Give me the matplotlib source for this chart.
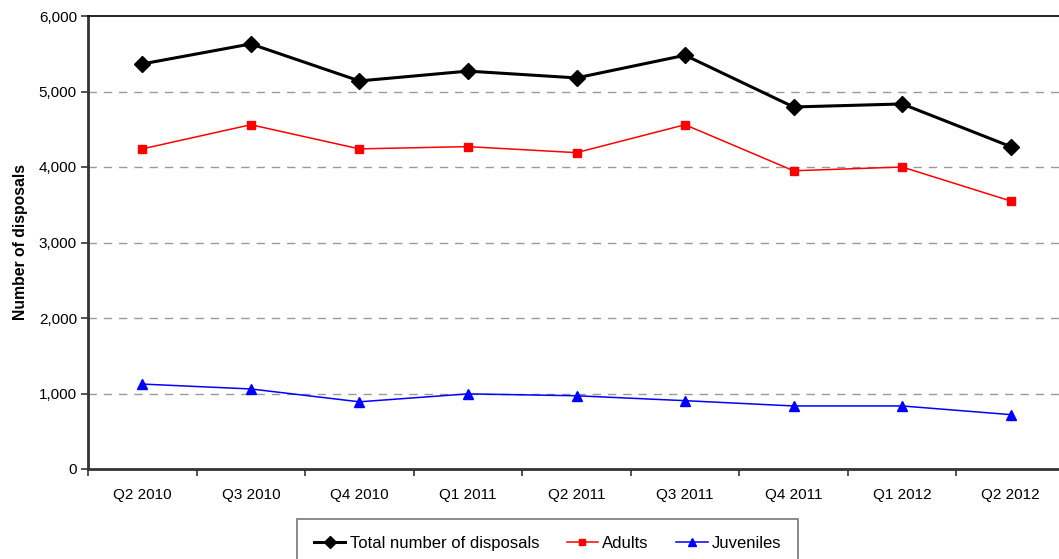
import matplotlib
matplotlib.use("Agg")
import matplotlib.pyplot as plt
from matplotlib.ticker import FuncFormatter, MultipleLocator, FixedLocator

plt.rcParams['font.family'] = ['Liberation Sans', 'DejaVu Sans']

quarters = ["Q2 2010", "Q3 2010", "Q4 2010", "Q1 2011", "Q2 2011",
            "Q3 2011", "Q4 2011", "Q1 2012", "Q2 2012"]
total = [5365, 5630, 5140, 5270, 5180, 5480, 4795, 4835, 4270]
adults = [4240, 4560, 4240, 4270, 4190, 4560, 3950, 4000, 3550]
juveniles = [1125, 1060, 890, 995, 970, 905, 835, 835, 720]

W, H = 1059, 559
fig = plt.figure(figsize=(W / 100, H / 100), dpi=100)
ax = fig.add_axes([88 / W, (H - 469) / H, (1065 - 88) / W, (469 - 16) / H])

x = list(range(len(quarters)))
ax.plot(x, total, color="black", lw=2.2, marker="D", ms=8,
        label="Total number of disposals", zorder=5)
ax.plot(x, adults, color="#ff0000", lw=1.1, marker="s", ms=6,
        label="Adults", zorder=4)
ax.plot(x, juveniles, color="#0000ff", lw=1.1, marker="^", ms=7,
        label="Juveniles", zorder=3)

ax.set_xlim(-0.5, 8.5)
ax.set_ylim(0, 6000)
ax.yaxis.set_major_locator(MultipleLocator(1000))
ax.yaxis.set_major_formatter(FuncFormatter(lambda v, p: f"{int(v):,}"))
ax.set_xticks(x)
ax.set_xticklabels(quarters)
ax.xaxis.set_minor_locator(FixedLocator([i - 0.5 for i in range(len(quarters) + 1)]))
ax.tick_params(axis="x", which="major", length=0, pad=14, labelsize=11)
ax.tick_params(axis="x", which="minor", length=5, width=1.2, color="#333333")
ax.tick_params(axis="y", length=5, width=1.2, color="#333333", labelsize=11, pad=3)

for v in range(1000, 6000, 1000):
    ax.axhline(v, color="#999999", lw=1, ls=(0, (6, 5)), zorder=1)

for s in ("left", "bottom"):
    ax.spines[s].set_linewidth(2)
    ax.spines[s].set_color("#333333")
ax.spines["top"].set_linewidth(1.2)
ax.spines["top"].set_color("black")
ax.spines["right"].set_visible(False)

ax.set_ylabel("Number of disposals", fontsize=11.3, fontweight="bold", labelpad=8)

leg = fig.legend(loc="upper left", bbox_to_anchor=(297 / W, 1 - 519 / H), ncol=3,
                 fontsize=12, frameon=True, fancybox=False, handlelength=1.9,
                 handletextpad=0.25, columnspacing=1.65, borderpad=1.0,
                 borderaxespad=0, markerscale=0.75)
leg.get_frame().set_edgecolor("#555555")
leg.get_frame().set_linewidth(1.2)

fig.savefig("out.png", dpi=100)
